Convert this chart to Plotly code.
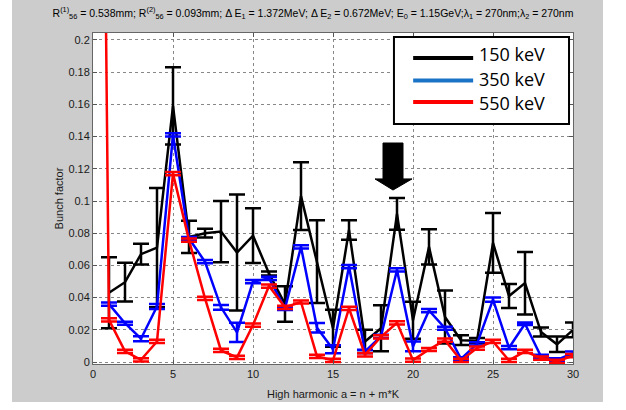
import plotly.graph_objects as go

# Harmonic numbers a = n + m*K
harmonics = list(range(1, 31))

# Bunch factor for the three energy spreads (mean and error)
b150 = [0.043, 0.0496, 0.067, 0.071, 0.159, 0.0777, 0.080, 0.081, 0.068, 0.0785,
        0.055, 0.036, 0.103, 0.0623, 0.021, 0.082, 0.0128, 0.021, 0.092, 0.026,
        0.0715, 0.028, 0.0136, 0.0133, 0.074, 0.041, 0.049, 0.0186, 0.011, 0.020]
e150 = [0.022, 0.012, 0.0065, 0.037, 0.024, 0.010, 0.0027, 0.019, 0.036, 0.017,
        0.0013, 0.011, 0.021, 0.0257, 0.0115, 0.006, 0.0072, 0.0143, 0.0098, 0.0115,
        0.011, 0.0165, 0.003, 0.0016, 0.0185, 0.0074, 0.0194, 0.0028, 0.0048, 0.0046]

b350 = [0.036, 0.0241, 0.0145, 0.0345, 0.141, 0.0767, 0.0623, 0.034, 0.0184, 0.0499,
        0.052, 0.0334, 0.0715, 0.0213, 0.008, 0.0593, 0.0066, 0.016, 0.0572, 0.0097,
        0.032, 0.021, 0.002, 0.0113, 0.0388, 0.0089, 0.0238, 0.0035, 0.0014, 0.0056]
e350 = [0.001, 0.001, 0.0015, 0.0015, 0.001, 0.001, 0.001, 0.0015, 0.006, 0.001,
        0.001, 0.001, 0.001, 0.003, 0.0025, 0.001, 0.001, 0.001, 0.001, 0.003,
        0.001, 0.001, 0.001, 0.001, 0.0013, 0.001, 0.0008, 0.001, 0.001, 0.001]

# 550 keV curve also carries the a = 0 point (b = 1)
harmonics550 = list(range(0, 31))
b550 = [1.0, 0.0262, 0.0066, 0.0014, 0.0128, 0.117, 0.0757, 0.0396, 0.0072, 0.0029, 0.023,
        0.0472, 0.034, 0.0373, 0.0035, 0.0011, 0.0334, 0.0045, 0.0157, 0.0244, 0.0012,
        0.0078, 0.0136, 0.001, 0.0087, 0.0128, 0.001, 0.0066, 0.0025, 0.0004, 0.004]
e550 = [0.0] + [0.001] * 30

series_names = ["150 keV", "350 keV", "550 keV"]
series_colors = ["#000000", "#0000ff", "#ff0000"]
legend_colors = ["#000000", "#1a73c6", "#ff0000"]

y_ticks = [0, 0.02, 0.04, 0.06, 0.08, 0.1, 0.12, 0.14, 0.16, 0.18, 0.2]
y_tick_text = ["0", "0.02", "0.04", "0.06", "0.08", "0.1", "0.12", "0.14", "0.16", "0.18", "0.2"]
x_ticks = [0, 5, 10, 15, 20, 25, 30]

# arrow marking harmonic 19 (data coordinates)
arrow_x = [18.125, 19.375, 19.375, 19.94, 18.75, 17.625, 18.125]
arrow_y = [0.136, 0.136, 0.1137, 0.1137, 0.1068, 0.1137, 0.1137]

fig = go.Figure()
datasets = [(harmonics, b150, e150), (harmonics, b350, e350), (harmonics550, b550, e550)]
for (xs, ys, es), name, col in zip(datasets, series_names, series_colors):
    fig.add_trace(go.Scatter(
        x=xs, y=ys, mode="lines", name=name, showlegend=False,
        line=dict(color=col, width=2.5),
        error_y=dict(type="data", array=es, visible=True, color=col,
                     thickness=2.5, width=8),
    ))

# grey figure panel with a thin white border, white plotting area on top
shapes = [
    dict(type="rect", xref="paper", yref="paper", x0=-0.16875, x1=1.0625, y0=-0.1148, y1=1.1,
         fillcolor="#cccccc", line=dict(width=0), layer="below"),
    dict(type="rect", xref="paper", yref="paper", x0=0, x1=1, y0=0, y1=1,
         fillcolor="white", line=dict(width=0), layer="below"),
]

path = "M " + " L ".join(f"{x},{y}" for x, y in zip(arrow_x, arrow_y)) + " Z"
shapes.append(dict(type="path", path=path, xref="x", yref="y",
                   fillcolor="black", line=dict(color="black", width=1)))

# legend box
lx0, lx1, ly0, ly1 = 0.627, 0.9917, 0.725, 0.988
shapes.append(dict(type="rect", xref="paper", yref="paper", x0=lx0, x1=lx1, y0=ly0, y1=ly1,
                   fillcolor="white", line=dict(color="black", width=2), layer="above"))
annotations = []
for i, (name, col) in enumerate(zip(series_names, legend_colors)):
    yl = [0.9245, 0.8565, 0.7915][i]
    yt = [0.936, 0.862, 0.790][i]
    shapes.append(dict(type="line", xref="paper", yref="paper", x0=0.667, x1=0.792,
                       y0=yl, y1=yl, line=dict(color=col, width=4), layer="above"))
    annotations.append(dict(xref="paper", yref="paper", x=0.800, y=yt, text=name,
                            showarrow=False, xanchor="left", yanchor="middle",
                            font=dict(family="Open Sans, sans-serif", size=18, color="black")))

title = ("R<sup>(1)</sup><sub>56</sub> = 0.538mm; R<sup>(2)</sup><sub>56</sub> = 0.093mm; "
         "\u0394 E<sub>1</sub> = 1.372MeV; \u0394 E<sub>2</sub> = 0.672MeV; "
         "E<sub>0</sub> = 1.15GeV;\u03bb<sub>1</sub> = 270nm;\u03bb<sub>2</sub> = 270nm")

axis_font = dict(family="Liberation Sans, Arial", size=11, color="#1a1a1a")

fig.update_layout(
    width=626, height=410,
    margin=dict(l=93, r=53, t=33, b=46),
    paper_bgcolor="white", plot_bgcolor="white",
    title=dict(text=title, x=0.5, xanchor="center", y=0.968, yanchor="middle",
               font=dict(family="Liberation Sans, Arial", size=10.5, color="black")),
    xaxis=dict(range=[0, 30], tickvals=x_ticks, ticks="inside", ticklen=4, tickcolor="#555",
               showgrid=True, gridcolor="#888", griddash="dot", gridwidth=1,
               showline=True, linecolor="#666", linewidth=1, mirror="ticks",
               zeroline=False, tickfont=axis_font,
               title=dict(text="High harmonic a = n + m*K", font=axis_font, standoff=11)),
    yaxis=dict(range=[-0.0012, 0.2043], tickvals=y_ticks, ticktext=y_tick_text,
               ticks="inside", ticklen=4, tickcolor="#555",
               showgrid=True, gridcolor="#888", griddash="dot", gridwidth=1,
               showline=True, linecolor="#666", linewidth=1, mirror="ticks",
               zeroline=False, tickfont=axis_font,
               title=dict(text="Bunch factor", font=axis_font, standoff=2)),
    shapes=shapes, annotations=annotations,
)

fig.write_html("out.html")
